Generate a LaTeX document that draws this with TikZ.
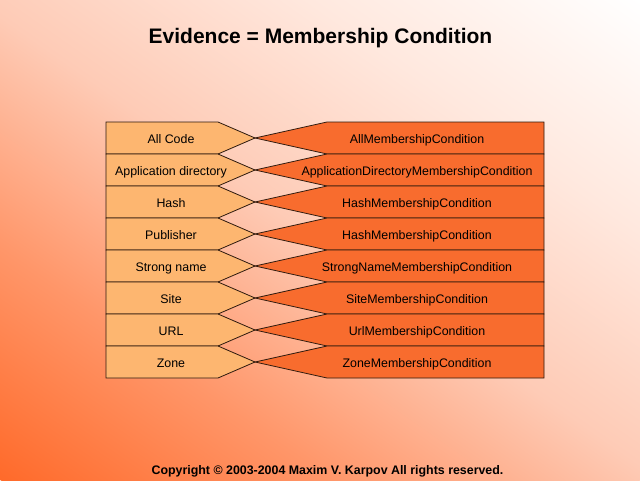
\documentclass[tikz,border=0pt]{standalone}
\usepackage{fontspec}
\setmainfont{Liberation Sans}
\definecolor{bgA}{RGB}{255,106,42}
\definecolor{bgB}{RGB}{255,150,105}
\definecolor{bgC}{RGB}{254,203,182}
\definecolor{bgD}{RGB}{255,232,222}
\definecolor{evfill}{RGB}{253,182,112}
\definecolor{mcfill}{RGB}{248,108,46}
\definecolor{edge}{RGB}{46,26,14}
\pgfdeclarehorizontalshading{bgshade}{100bp}{color(0bp)=(bgA); color(25bp)=(bgA); color(37.5bp)=(bgB); color(50bp)=(bgC); color(62.5bp)=(bgD); color(75bp)=(white); color(100bp)=(white)}
\tikzset{
  evbox/.style={fill=evfill, draw=edge, line width=0.8pt, line join=miter},
  mcbox/.style={fill=mcfill, draw=edge, line width=0.8pt, line join=miter},
  lab/.style={font=\fontsize{12.4}{14}\selectfont, text=black, inner sep=0pt, anchor=base},
  titletext/.style={font=\fontsize{21}{24}\selectfont\bfseries, text=black, inner sep=0pt, anchor=base},
  copytext/.style={font=\fontsize{12.4}{14}\selectfont\bfseries, text=black, inner sep=0pt, anchor=base}
}
\begin{document}
\begin{tikzpicture}[x=1pt,y=-1pt]
\useasboundingbox (0,0) rectangle (640,480);
\begin{scope}
  \clip (0,0) rectangle (640,480);
  \begin{scope}[transform canvas={rotate around={55:(320,240)}}]
    \shade[shading=bgshade] (-60,-160) rectangle (700,640);
  \end{scope}
\end{scope}
\node[titletext] (title) at (320.5,43.5) {Evidence = Membership Condition};
\foreach \i/\L/\R in {
  0/All Code/AllMembershipCondition,
  1/Application directory/ApplicationDirectoryMembershipCondition,
  2/Hash/HashMembershipCondition,
  3/Publisher/HashMembershipCondition,
  4/Strong name/StrongNameMembershipCondition,
  5/Site/SiteMembershipCondition,
  6/URL/UrlMembershipCondition,
  7/Zone/ZoneMembershipCondition}{
  \pgfmathsetmacro\t{122+32*\i}
  \pgfmathsetmacro\b{\t+32}
  \pgfmathsetmacro\m{\t+16}
  \draw[evbox] (106,\t) -- (218,\t) -- (255,\m) -- (218,\b) -- (106,\b) -- cycle;
  \draw[mcbox] (327,\t) -- (544,\t) -- (544,\b) -- (327,\b) -- (255,\m) -- cycle;
  \node[lab] (ev\i) at (171,\m+5.5) {\L};
  \node[lab] (mc\i) at (417,\m+5.5) {\R};
}
\node[copytext] (copy) at (327.5,474) {Copyright © 2003-2004 Maxim V. Karpov All rights reserved.};
\end{tikzpicture}
\end{document}
